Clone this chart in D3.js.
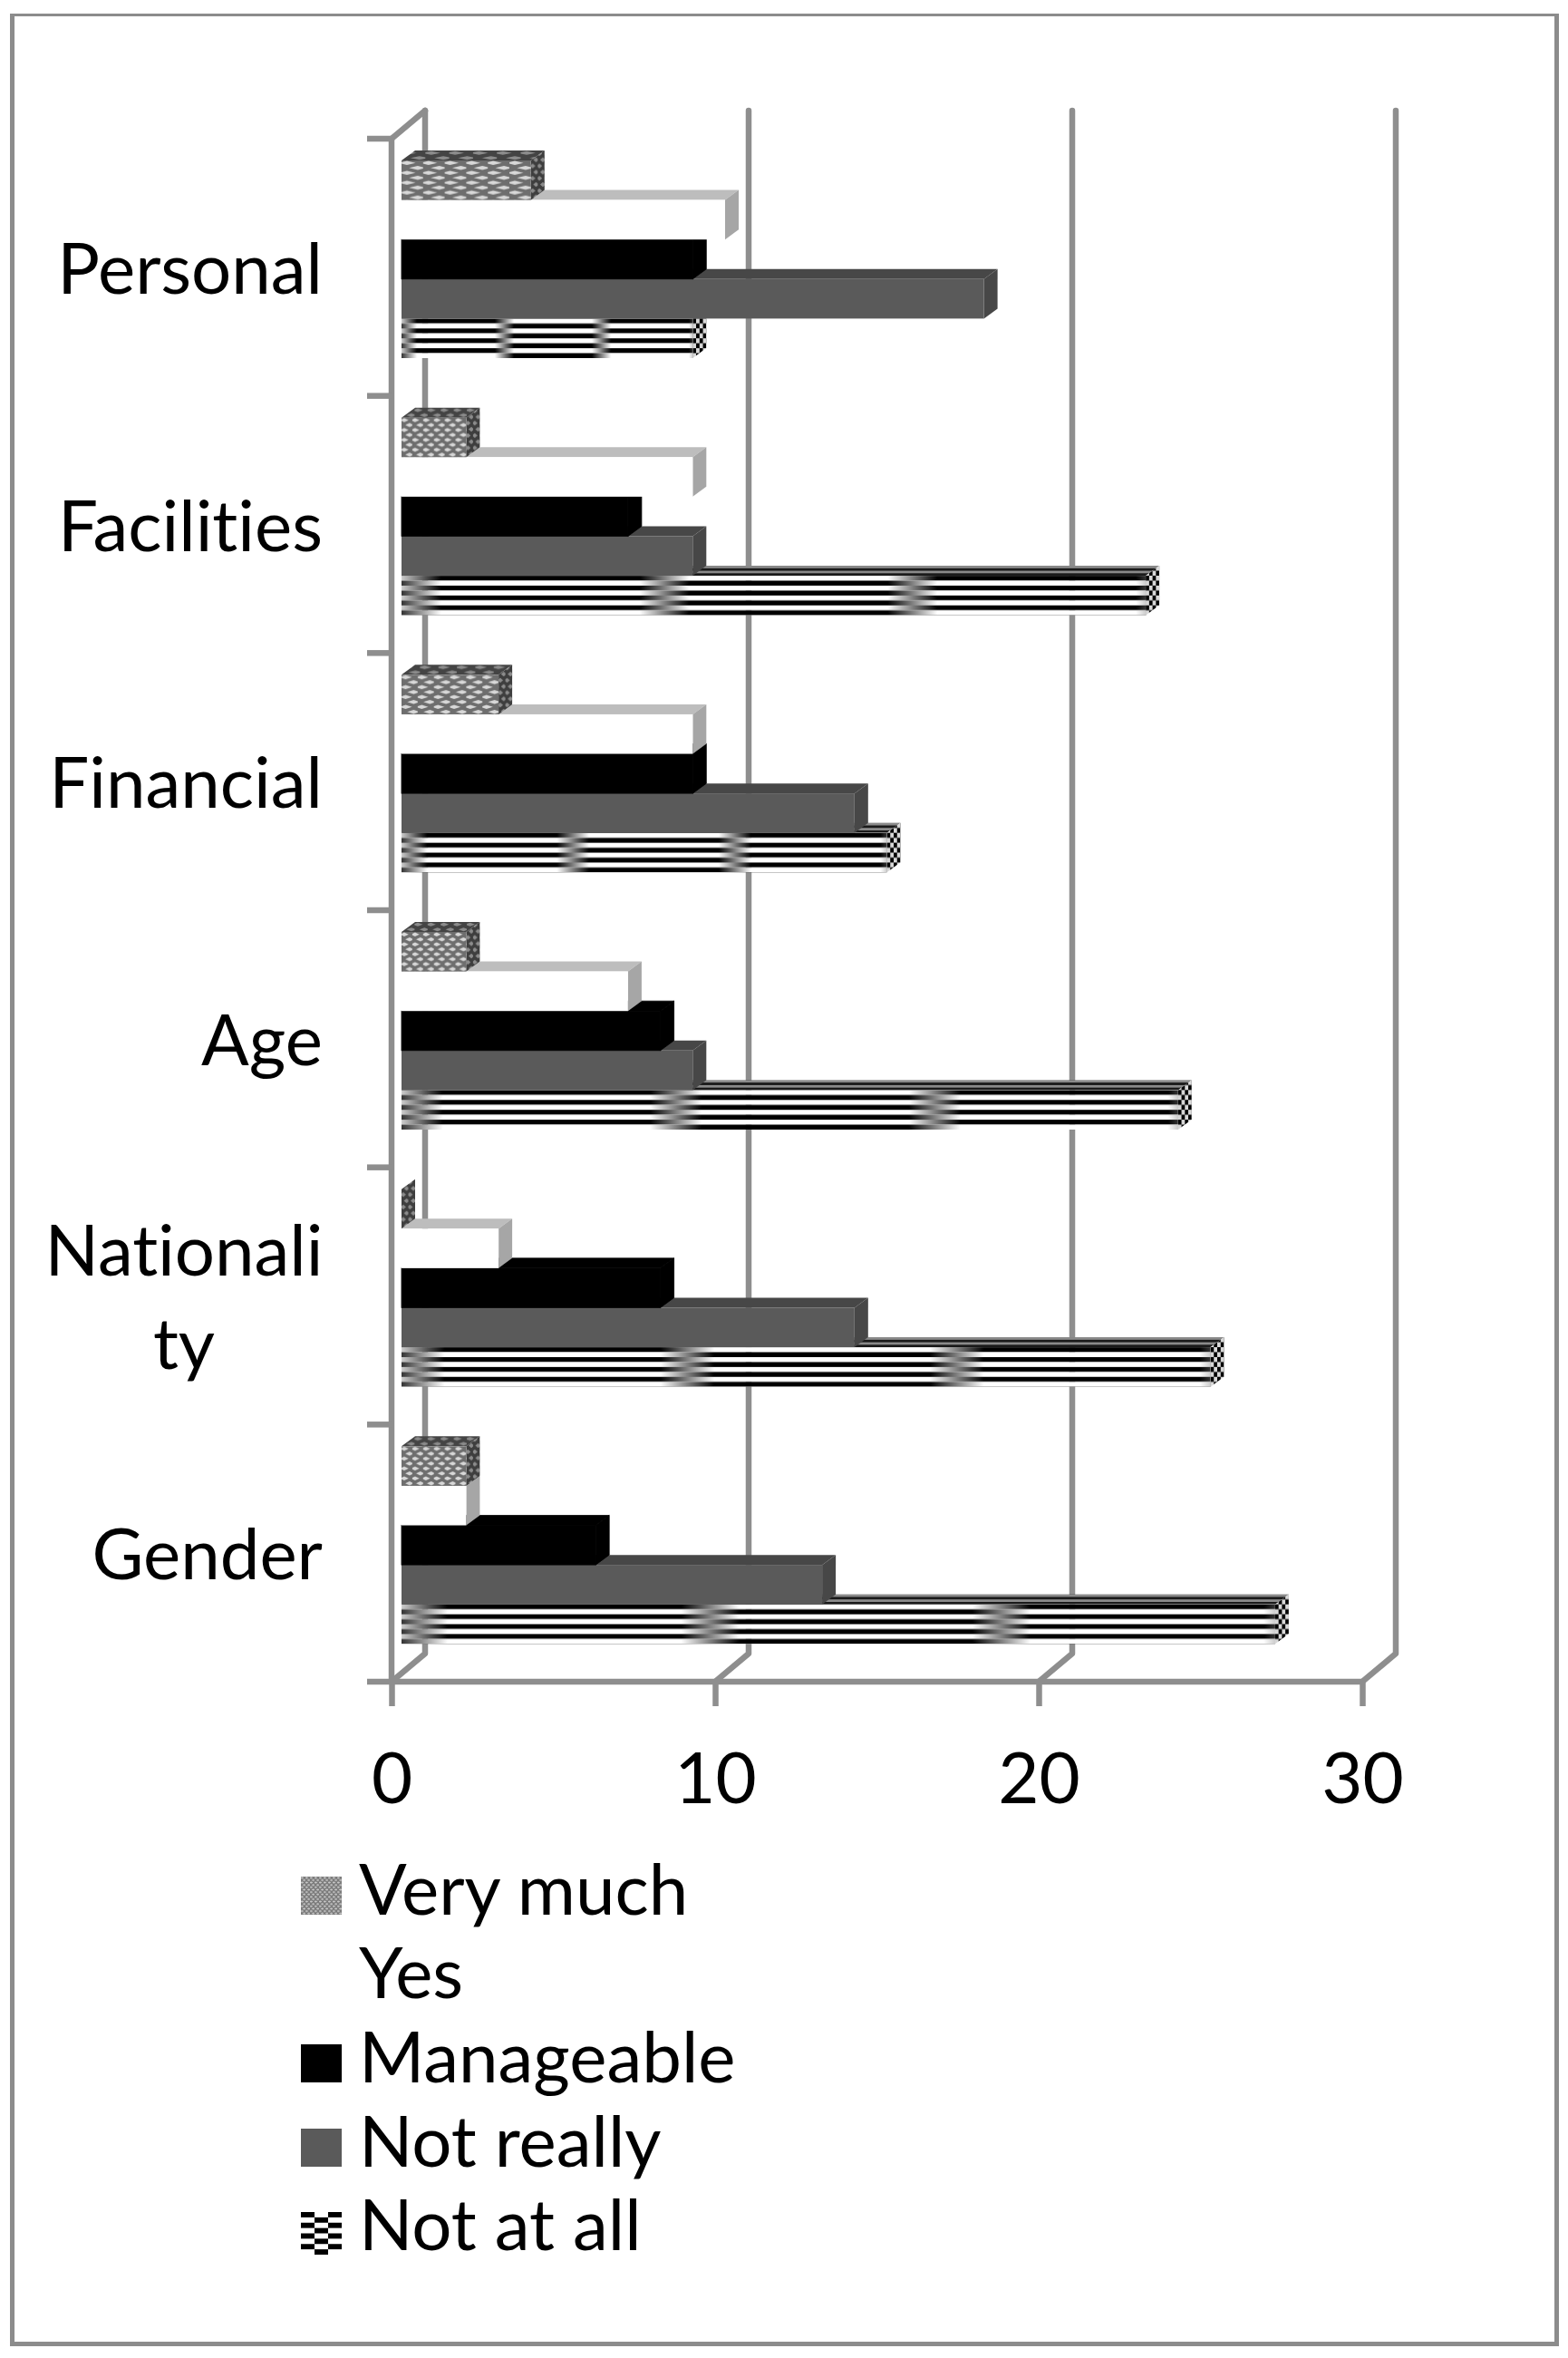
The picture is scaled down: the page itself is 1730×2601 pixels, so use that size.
<!DOCTYPE html>
<html><head><meta charset="utf-8">
<script src="https://cdn.jsdelivr.net/npm/d3@7"></script>
<style>html,body{margin:0;padding:0;background:#fff}svg{display:block}text{font-family:Lato,"Open Sans",sans-serif;fill:#000;font-variant-ligatures:none}</style>
</head><body><div id="c"></div>
<script>
const categoryLabels = [["Personal"],["Facilities"],["Financial"],["Age"],["Nationali","ty"],["Gender"]];
const categories = ["Personal","Facilities","Financial","Age","Nationality","Gender"];
const seriesNames = ["Very much","Yes","Manageable","Not really","Not at all"];
const veryMuch  = [4,2,3,2,0,2];
const yes       = [10,9,9,7,3,2];
const manageable= [9,7,9,8,8,6];
const notReally = [18,9,14,9,14,13];
const notAtAll  = [9,23,15,24,25,27];
const seriesValues = [veryMuch,yes,manageable,notReally,notAtAll];
const xTicks = [0,10,20,30];

const W=1730,H=2601;
const x0=432,x30=1503,yTop=153,yBot=1855;
const depthX=37,depthY=31,barDX=15,barDY=11,barInset=11;
const axisCol="#8e8e8e",axisW=6.5;
const FONT=78;

const svg=d3.select("#c").append("svg").attr("width",W).attr("height",H);
const defs=svg.append("defs");

function gradient(id,stops){
  const g=defs.append("linearGradient").attr("id",id);
  stops.forEach(s=>g.append("stop").attr("offset",s[0]).attr("stop-color",s[1]));
}
gradient("gA",[[0,"#808080"],[.05,"#000"],[.45,"#000"],[.5,"#808080"],[.55,"#fff"],[.95,"#fff"],[1,"#808080"]]);
gradient("gB",[[0,"#808080"],[.05,"#fff"],[.45,"#fff"],[.5,"#808080"],[.55,"#000"],[.95,"#000"],[1,"#808080"]]);
const pStripes=defs.append("pattern").attr("id","pStripes")
  .attr("patternUnits","objectBoundingBox").attr("patternContentUnits","objectBoundingBox")
  .attr("x",0.02).attr("y",0).attr("width",2/3).attr("height",1/4);
pStripes.append("rect").attr("width",2/3).attr("height",.125).attr("fill","url(#gA)");
pStripes.append("rect").attr("y",.125).attr("width",2/3).attr("height",.125).attr("fill","url(#gB)");

function stripesKey(){
  const p=defs.append("pattern").attr("id","pKey").attr("patternUnits","objectBoundingBox")
    .attr("patternContentUnits","objectBoundingBox").attr("width",2/3).attr("height",1/4);
  [[0,0,"#000"],[1/3,0,"#fff"],[0,1/8,"#fff"],[1/3,1/8,"#000"]].forEach(c=>
    p.append("rect").attr("x",c[0]).attr("y",c[1]).attr("width",1/3).attr("height",1/8).attr("fill",c[2]));
}
stripesKey();

function mesh(id,bg,fg,cols,rows,k){
  const p=defs.append("pattern").attr("id",id).attr("patternUnits","objectBoundingBox")
    .attr("patternContentUnits","objectBoundingBox").attr("width",1/cols).attr("height",1/rows);
  const w=1/cols,h=1/rows;
  p.append("rect").attr("width",w).attr("height",h).attr("fill",bg);
  const dm=(cx,cy)=>`M${cx-w/2*k},${cy}L${cx},${cy-h/4*k}L${cx+w/2*k},${cy}L${cx},${cy+h/4*k}Z`;
  p.append("path").attr("d",dm(w/4,h/4)+dm(3*w/4,3*h/4)).attr("fill",fg);
}
mesh("pMesh","#6e6e6e","#d8d8d8",6,4,.8);
mesh("pMeshKey","#7a7a7a","#c8c8c8",9,8,.85);
mesh("pMeshDark","#3e3e3e","#8c8c8c",2,4,.8);
mesh("pMeshTop","#444444","#8c8c8c",6,1,.75);
const pDots=defs.append("pattern").attr("id","pDots").attr("patternUnits","objectBoundingBox")
  .attr("patternContentUnits","objectBoundingBox").attr("width",1/2).attr("height",1/5);
pDots.append("rect").attr("width",.5).attr("height",.2).attr("fill","#d8d8d8");
pDots.append("rect").attr("width",.25).attr("height",.1).attr("fill","#000");
pDots.append("rect").attr("x",.25).attr("y",.1).attr("width",.25).attr("height",.1).attr("fill","#000");
const pTop=defs.append("pattern").attr("id","pTopStripes").attr("patternUnits","objectBoundingBox")
  .attr("patternContentUnits","objectBoundingBox").attr("width",1).attr("height",.5);
pTop.append("rect").attr("width",1).attr("height",.5).attr("fill","#8a8a8a");
pTop.append("rect").attr("y",.25).attr("width",1).attr("height",.25).attr("fill","#1a1a1a");

const styles={
 "Very much":{front:"url(#pMesh)",top:"url(#pMeshTop)",side:"url(#pMeshDark)"},
 "Yes":{front:"#fff",top:"#bdbdbd",side:"#a6a6a6"},
 "Manageable":{front:"#000",top:"#000",side:"#000",seal:"#000"},
 "Not really":{front:"#5a5a5a",top:"#474747",side:"#474747"},
 "Not at all":{front:"url(#pStripes)",top:"url(#pTopStripes)",side:"url(#pDots)"}
};

const frame=svg.append("g").attr("fill","#8c8c8c");
[[11,15,1709,3],[11,15,5,2573],[1715,15,5,2573],[11,2583,1709,5]].forEach(r=>
  frame.append("rect").attr("x",r[0]).attr("y",r[1]).attr("width",r[2]).attr("height",r[3]));

const xS=d3.scaleLinear().domain([0,30]).range([x0,x30]);
const yBand=d3.scaleBand().domain(categories).range([yTop,yBot]);
const barH=43.6;
const inner=d3.scaleBand().domain(seriesNames).range([0,barH*5]);
const pad=24;
const line=d3.line();
const axis=svg.append("g").attr("fill","none").attr("stroke",axisCol).attr("stroke-width",axisW);

xTicks.forEach(t=>{
  const x=xS(t);
  axis.append("path").attr("stroke-linejoin","round").attr("stroke-linecap","round")
    .attr("d",line([[x,yBot],[x+depthX,yBot-depthY],[x+depthX,yTop-depthY]]));
});
axis.append("path").attr("stroke-linecap","round").attr("d",line([[x0,yTop],[x0+depthX,yTop-depthY]]));
axis.append("path").attr("d",line([[x0,yTop],[x0,yBot]]));
axis.append("path").attr("d",line([[x0,yBot],[x30,yBot]]));
d3.range(categories.length+1).forEach(i=>{
  const y=yTop+i*yBand.step();
  axis.append("path").attr("d",line([[405,y],[x0,y]]));
});

const gx=svg.append("g").attr("transform",`translate(0,${yBot})`)
  .call(d3.axisBottom(xS).tickValues(xTicks).tickSize(27).tickPadding(52).tickFormat(d3.format("d")));
gx.select(".domain").remove();
gx.selectAll("line").attr("stroke",axisCol).attr("stroke-width",axisW);
gx.selectAll("text").style("font-size",FONT+"px").style("font-family","Lato").attr("fill","#000");

const base=xS(0)+barInset;
categories.map((c,i)=>i).reverse().forEach(ci=>{
  const c=categories[ci];
  seriesNames.map((s,i)=>i).reverse().forEach(si=>{
    const s=seriesNames[si],v=seriesValues[si][ci];
    const y=yBand(c)+pad+inner(s),h=barH;
    const x1=base+(xS(v)-xS(0));
    const st=styles[s];
    const g=svg.append("g");
    if(st.seal) g.attr("stroke",st.seal).attr("stroke-width",.8);
    g.append("path").attr("fill",st.top)
      .attr("d",line([[base,y],[x1,y],[x1+barDX,y-barDY],[base+barDX,y-barDY]])+"Z");
    g.append("path").attr("fill",st.side)
      .attr("d",line([[x1,y],[x1+barDX,y-barDY],[x1+barDX,y+h-barDY],[x1,y+h]])+"Z");
    if(v>0) g.append("rect").attr("x",base).attr("y",y).attr("width",x1-base).attr("height",h).attr("fill",st.front);
  });
});

categories.forEach((c,i)=>{
  const lines=categoryLabels[i],mid=yBand(c)+yBand.step()/2;
  if(lines.length===1){
    svg.append("text").attr("x",356).attr("y",mid+29).attr("text-anchor","end")
      .style("font-size",FONT+"px").text(lines[0]);
  }else{
    lines.forEach((l,k)=>svg.append("text").attr("x",203).attr("y",mid-23+k*103).attr("text-anchor","middle")
      .style("font-size",FONT+"px").text(l));
  }
});

const legendRows=[
 {key:"url(#pMeshKey)",label:"Very much",base:2112,box:[2070,42]},
 {key:null,label:"Yes",base:2204,box:null},
 {key:"#000",label:"Manageable",base:2297,box:[2255,42]},
 {key:"#5a5a5a",label:"Not really",base:2390,box:[2348,42]},
 {key:"url(#pKey)",label:"Not at all",base:2482,box:[2440,47]}
];
legendRows.forEach(r=>{
  if(r.box) svg.append("rect").attr("x",332).attr("y",r.box[0]).attr("width",45).attr("height",r.box[1]).attr("fill",r.key);
  svg.append("text").attr("x",396).attr("y",r.base).style("font-size",FONT+"px").text(r.label);
});
</script></body></html>
